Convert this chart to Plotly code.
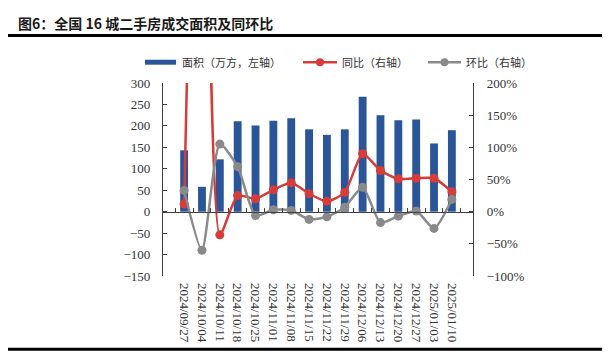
import plotly.graph_objects as go

dates = ["2024/09/27", "2024/10/04", "2024/10/11", "2024/10/18", "2024/10/25",
         "2024/11/01", "2024/11/08", "2024/11/15", "2024/11/22", "2024/11/29",
         "2024/12/06", "2024/12/13", "2024/12/20", "2024/12/27", "2025/01/03",
         "2025/01/10"]
area = [143, 58, 122, 211, 201, 212, 218, 192, 179, 192, 268, 225, 213, 215, 159, 190]
yoy = [12, 1000, -36, 25, 20, 34, 45, 28, 16, 30, 90, 64, 51, 52, 52, 31]
mom = [33, -60, 105, 70, -6, 3, 2, -12, -8, 7, 38, -17, -7, 1, -26, 19]

OFF = 8  # page body margin
W, H = 610 - OFF, 355 - OFF
L, R, T, B = 163, 473, 83, 278  # in screenshot pixels

def px(x):
    return (x - L) / (R - L)

def py(y):
    return (B - y) / (B - T)

BLUE = "#2A5599"
RED = "#D63C3A"
GREY = "#8A8A8A"
AX = "#404040"
SERIF = "Liberation Serif"
CJK = "Noto Sans CJK SC"

fig = go.Figure()
fig.add_trace(go.Bar(x=dates, y=area, marker=dict(color=BLUE, line=dict(width=0)),
                     width=0.44, name="面积（万方，左轴）", yaxis="y", showlegend=False))
fig.add_trace(go.Scatter(x=dates, y=yoy, mode="lines+markers", yaxis="y2",
                         line=dict(color=RED, width=2.5, shape="spline", smoothing=0.6),
                         marker=dict(color=RED, size=9), name="同比（右轴）",
                         showlegend=False, cliponaxis=True))
fig.add_trace(go.Scatter(x=dates, y=mom, mode="lines+markers", yaxis="y2",
                         line=dict(color=GREY, width=2.5, shape="spline", smoothing=0.6),
                         marker=dict(color=GREY, size=9), name="环比（右轴）",
                         showlegend=False, cliponaxis=True))
# helper trace for the zero-line axis
fig.add_trace(go.Scatter(x=dates, y=[None] * len(dates), xaxis="x2", yaxis="y",
                         mode="lines", showlegend=False, hoverinfo="skip"))

fig.update_layout(
    width=W, height=H,
    margin=dict(l=L - OFF, r=W - (R - OFF), t=T - OFF, b=H - (B - OFF), pad=0),
    paper_bgcolor="white", plot_bgcolor="white",
    xaxis=dict(type="category", categoryorder="array", categoryarray=dates,
               showline=False, ticks="", tickangle=90, ticklabelstandoff=6,
               tickfont=dict(family=SERIF, size=13, color="#333333"),
               showgrid=False, zeroline=False),
    xaxis2=dict(type="category", overlaying="x", matches="x", anchor="free",
                position=1 / 3, showticklabels=False, ticks="inside",
                tickson="boundaries", ticklen=4, tickcolor=AX, showline=True,
                linecolor=AX, linewidth=1.2, showgrid=False, zeroline=False),
    yaxis=dict(range=[-150, 300], dtick=50, showgrid=False, zeroline=False,
               showline=True, linecolor=AX, linewidth=1.2, ticks="inside",
               ticklen=4, tickcolor=AX, ticklabelstandoff=9,
               tickfont=dict(family=SERIF, size=13, color="#333333")),
    yaxis2=dict(range=[-100, 200], dtick=50, ticksuffix="%", overlaying="y",
                side="right", showgrid=False, zeroline=False, showline=True,
                linecolor=AX, linewidth=1.2, ticks="inside", ticklen=4,
                tickcolor=AX, ticklabelstandoff=10,
                tickfont=dict(family=SERIF, size=13, color="#333333")),
)

shapes = []
annotations = []
# title and rules
annotations.append(dict(x=px(16), y=py(22), xref="paper", yref="paper",
                        xanchor="left", yanchor="middle", showarrow=False,
                        text="<b>图6：全国 16 城二手房成交面积及同环比</b>",
                        font=dict(family=CJK, size=14, color="#1a1a1a")))
shapes.append(dict(type="line", xref="paper", yref="paper", x0=px(8), x1=px(612),
                   y0=py(35), y1=py(35), line=dict(color="black", width=3)))
shapes.append(dict(type="line", xref="paper", yref="paper", x0=px(8), x1=px(612),
                   y0=py(352), y1=py(352), line=dict(color="black", width=3)))
# legend
ly = 62
shapes.append(dict(type="rect", xref="paper", yref="paper", x0=px(145), x1=px(176),
                   y0=py(ly - 2.5), y1=py(ly + 2.5), line=dict(width=0), fillcolor=BLUE))
annotations.append(dict(x=px(180), y=py(ly), xref="paper", yref="paper", xanchor="left",
                        yanchor="middle", showarrow=False, text="面积（万方，左轴）",
                        font=dict(family=CJK, size=11, color="#333333")))
for (x0, x1, col, txt) in [(303, 337, RED, "同比（右轴）"), (428, 461, GREY, "环比（右轴）")]:
    shapes.append(dict(type="line", xref="paper", yref="paper", x0=px(x0), x1=px(x1),
                       y0=py(ly), y1=py(ly), line=dict(color=col, width=2.5)))
    cx = (x0 + x1) / 2
    shapes.append(dict(type="circle", xref="paper", yref="paper", x0=px(cx - 4),
                       x1=px(cx + 4), y0=py(ly - 4), y1=py(ly + 4),
                       line=dict(width=0), fillcolor=col))
    annotations.append(dict(x=px(x1 + 3), y=py(ly), xref="paper", yref="paper",
                            xanchor="left", yanchor="middle", showarrow=False, text=txt,
                            font=dict(family=CJK, size=11, color="#333333")))

fig.update_layout(shapes=shapes, annotations=annotations)
fig.write_html("out.html")
